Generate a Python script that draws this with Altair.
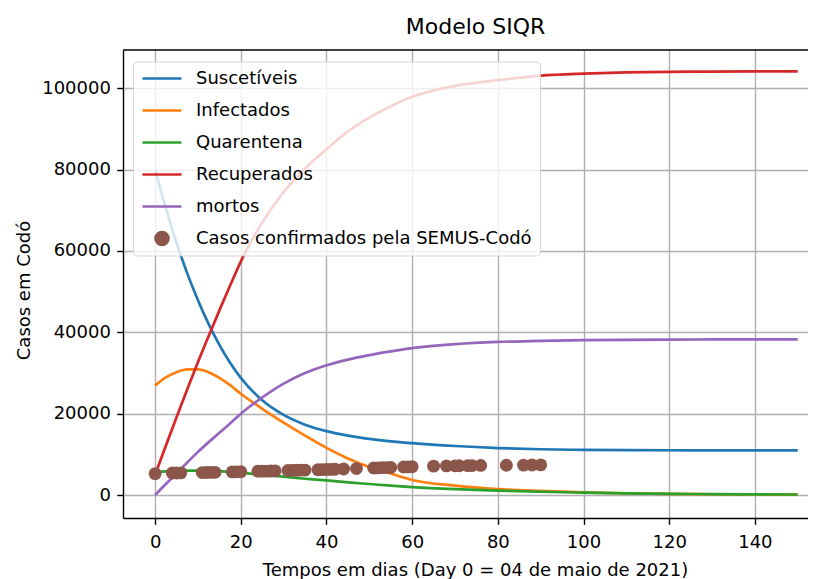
import altair as alt
import pandas as pd

# ---- data ----
dias = [0, 2.5, 5, 7.5, 10, 12.5, 15, 17.5, 20, 25, 30, 35, 40, 45, 50, 55, 60,
        70, 80, 90, 100, 110, 120, 130, 140, 150]
suscetiveis = [80000, 70500, 62000, 54500, 47900, 42000, 36900, 32500, 28800, 23300,
               19700, 17300, 15700, 14600, 13800, 13200, 12750, 12050, 11550, 11250,
               11100, 11030, 11000, 10990, 10980, 10970]
infectados = [26900, 28900, 30200, 30900, 30900, 30200, 28800, 27000, 24900, 21200,
              17800, 14600, 11600, 9000, 6900, 5300, 3700, 2300, 1450, 1000,
              650, 420, 280, 190, 130, 90]
quarentena = [5600, 5800, 5950, 6000, 6000, 5950, 5850, 5650, 5450, 5000,
              4500, 4000, 3600, 3100, 2700, 2300, 1950, 1450, 1100, 800,
              580, 420, 300, 220, 160, 120]
recuperados = [5000, 12100, 19100, 26000, 32700, 39100, 45400, 51500, 57400, 67000,
               74500, 80300, 85000, 89400, 92800, 95600, 97900, 100600, 102000, 103100,
               103600, 103900, 104050, 104100, 104150, 104180]
mortos = [0, 2700, 5300, 8000, 10600, 13000, 15300, 17600, 20000, 24000,
          27400, 30000, 31900, 33300, 34400, 35300, 36100, 37100, 37650, 37900,
          38080, 38150, 38200, 38250, 38250, 38270]

dias_casos = [0, 4, 5, 6, 11, 12, 13, 14, 18, 19, 20, 24, 25, 26, 27, 28, 31, 32, 33, 34, 35,
              38, 39, 40, 41, 42, 44, 47, 51, 52, 53, 54, 55, 58, 59, 60, 65, 68, 70, 71,
              73, 74, 76, 82, 86, 88, 90]
casos = [5250, 5400, 5420, 5450, 5520, 5540, 5560, 5580, 5680, 5700, 5720, 5830, 5860, 5880,
         5900, 5930, 6020, 6050, 6080, 6100, 6130, 6220, 6250, 6280, 6300, 6330, 6400, 6500,
         6650, 6680, 6720, 6750, 6780, 6880, 6910, 6940, 7100, 7150, 7180, 7200, 7220, 7240,
         7270, 7320, 7350, 7380, 7400]

series_nomes = ["Suscetíveis", "Infectados", "Quarentena", "Recuperados", "mortos",
                "Casos confirmados pela SEMUS-Codó"]
cores = ["#1f77b4", "#ff7f0e", "#2ca02c", "#d62728", "#9467bd", "#8c564b"]
formas = ["stroke", "stroke", "stroke", "stroke", "stroke", "circle"]
tamanhos = [1521, 1521, 1521, 1521, 1521, 165]

x_ticks = [0, 20, 40, 60, 80, 100, 120, 140]
y_ticks = [0, 20000, 40000, 60000, 80000, 100000]

# ---- tables ----
curvas = [suscetiveis, infectados, quarentena, recuperados, mortos]
linhas = []
for nome, vals in zip(series_nomes[:5], curvas):
    for d, v in zip(dias, vals):
        linhas.append({"dia": d, "valor": v, "serie": nome})
df_linhas = pd.DataFrame(linhas)
df_casos = pd.DataFrame({"dia": dias_casos, "valor": casos, "serie": series_nomes[5]})

FONT = "DejaVu Sans"
W, H = 685, 468

x_scale = alt.Scale(domain=[-7.5, 152.4], nice=False, zero=False)
y_scale = alt.Scale(domain=[-5655, 109420], nice=False, zero=False)
color_scale = alt.Scale(domain=series_nomes, range=cores)
shape_scale = alt.Scale(type="ordinal", domain=series_nomes, range=formas)
size_scale = alt.Scale(type="ordinal", domain=series_nomes, range=tamanhos)

legend = alt.Legend(
    orient="none", legendX=10, legendY=11.5, title=None, direction="vertical",
    symbolStrokeWidth=2.7, symbolOpacity=1,
    labelFont=FONT, labelFontSize=18, labelColor="#000000", labelOffset=13,
    labelLimit=600, rowPadding=14, padding=8, clipHeight=18,
    fillColor="rgba(255,255,255,0.8)", strokeColor="rgba(204,204,204,0.8)",
    cornerRadius=4,
)

color = alt.Color("serie:N", scale=color_scale, legend=legend)

axis_common = dict(
    tickSize=6.3, tickColor="black", tickWidth=1.4,
    domainColor="black", domainWidth=1.4,
    labelFont=FONT, labelFontSize=18, labelColor="black",
    gridColor="#b0b0b0", gridWidth=1.4,
    titleFont=FONT, titleFontSize=18, titleFontWeight="normal", titleColor="black",
)

x_axis = alt.Axis(values=x_ticks, grid=True, labelPadding=9, titlePadding=10,
                  title="Tempos em dias (Day 0 = 04 de maio de 2021)", titleX=352,
                  labelFlush=False, **axis_common)
y_axis = alt.Axis(values=y_ticks, grid=True, format="d", labelPadding=6.3, titlePadding=8,
                  titleY=240, title="Casos em Codó", **axis_common)

linhas_chart = alt.Chart(df_linhas).mark_line(strokeWidth=2.7, interpolate="monotone").encode(
    x=alt.X("dia:Q", scale=x_scale, axis=x_axis),
    y=alt.Y("valor:Q", scale=y_scale, axis=y_axis),
    color=color,
)

pontos_chart = alt.Chart(df_casos).mark_point(filled=True, opacity=1).encode(
    x=alt.X("dia:Q", scale=x_scale, axis=x_axis),
    y=alt.Y("valor:Q", scale=y_scale, axis=y_axis),
    color=color,
    shape=alt.Shape("serie:N", scale=shape_scale, legend=legend),
    size=alt.Size("serie:N", scale=size_scale, legend=legend),
)

# top spine of the frame
moldura_topo = alt.Chart(pd.DataFrame({"borda": ["topo"]})).mark_rule(
    color="black", strokeWidth=1.4
).encode(x=alt.value(0), x2=alt.value(W), y=alt.value(0))

chart = alt.layer(linhas_chart, pontos_chart, moldura_topo).properties(
    width=W, height=H,
    autosize=alt.AutoSizeParams(type="none"),
    padding={"left": 115, "top": 42, "right": 0, "bottom": 61},
    title=alt.TitleParams("Modelo SIQR", font=FONT, fontSize=22, fontWeight="normal",
                          color="black", anchor="middle", dx=10, offset=10),
).configure(font=FONT).configure_view(stroke="transparent", strokeWidth=0)

chart.save("out.html", embed_options={"renderer": "svg", "actions": False})
